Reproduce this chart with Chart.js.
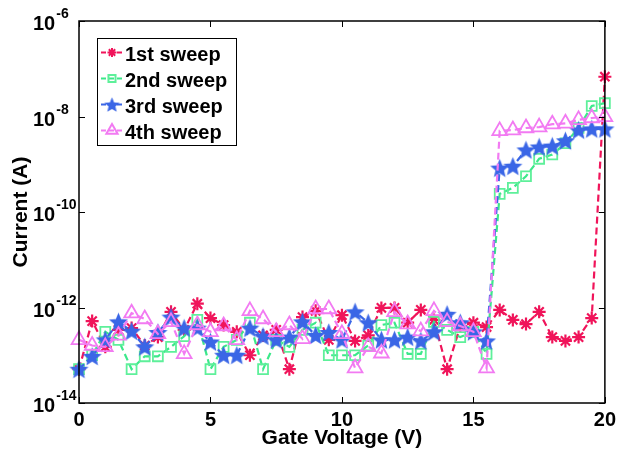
<!DOCTYPE html>
<html>
<head>
<meta charset="utf-8">
<script src="https://cdn.jsdelivr.net/npm/chart.js@4.4.0/dist/chart.umd.min.js"></script>
<style>
    html, body { margin: 0; padding: 0; background: #fff; }
</style>
</head>
<body>
<canvas id="chart" width="621" height="456"></canvas>
<script>
// gate voltage steps (V)
const gateVoltage = [0, 0.5, 1, 1.5, 2, 2.5, 3, 3.5, 4, 4.5, 5, 5.5, 6, 6.5, 7, 7.5, 8, 8.5, 9, 9.5,
    10, 10.5, 11, 11.5, 12, 12.5, 13, 13.5, 14, 14.5, 15, 15.5, 16, 16.5, 17, 17.5, 18, 18.5, 19, 19.5, 20];

// current (A) per sweep
const sweep1 = [5.1e-14, 5.2e-13, 1.5e-13, 3.4e-13, 3.7e-13, 1.6e-13, 2.4e-13, 8.1e-13, 3.4e-13, 1.2e-12,
    6.0e-13, 4.3e-13, 3.1e-13, 1.0e-13, 2.6e-13, 3.4e-13, 5.1e-14, 6.3e-13, 8.5e-13, 2.1e-13,
    6.9e-13, 2.0e-13, 2.6e-13, 9.8e-13, 9.8e-13, 4.8e-13, 8.9e-13, 5.5e-13, 5.1e-14, 4.1e-13,
    4.8e-13, 3.9e-13, 8.9e-13, 5.5e-13, 4.5e-13, 8.1e-13, 2.4e-13, 2.0e-13, 2.4e-13, 6.0e-13, 6.8e-8];
const sweep2 = [5.1e-14, 1.0e-13, 3.1e-13, 2.1e-13, 5.1e-14, 9.5e-14, 9.5e-14, 1.5e-13, 2.5e-13, 5.5e-13,
    5.1e-14, 1.5e-13, 2.1e-13, 4.8e-13, 5.1e-14, 2.1e-13, 1.5e-13, 3.4e-13, 4.8e-13, 1.0e-13,
    1.0e-13, 1.0e-13, 1.6e-13, 4.3e-13, 4.8e-13, 1.07e-13, 1.07e-13, 5.0e-13, 3.4e-13, 2.4e-13,
    3.1e-13, 1.07e-13, 2.4e-10, 3.2e-10, 5.6e-10, 1.3e-9, 1.6e-9, 2.75e-9, 5.75e-9, 1.66e-8, 1.9e-8];
const sweep3 = [5.1e-14, 9.5e-14, 2.1e-13, 5.0e-13, 3.2e-13, 1.5e-13, 3.0e-13, 6.3e-13, 3.7e-13, 3.7e-13,
    1.9e-13, 1.0e-13, 1.0e-13, 3.7e-13, 2.5e-13, 2.1e-13, 2.4e-13, 5.0e-13, 2.6e-13, 3.0e-13,
    2.1e-13, 8.1e-13, 4.8e-13, 2.1e-13, 2.1e-13, 2.4e-13, 2.0e-13, 3.1e-13, 7.2e-13, 4.8e-13,
    3.1e-13, 2.0e-13, 8.3e-10, 9.1e-10, 2.0e-9, 2.3e-9, 2.4e-9, 3.1e-9, 5.2e-9, 5.5e-9, 5.5e-9];
const sweep4 = [2.1e-13, 1.6e-13, 1.5e-13, 2.6e-13, 7.6e-13, 5.75e-13, 2.8e-13, 5.0e-13, 1.07e-13, 4.3e-13,
    3.1e-13, 4.1e-13, 2.1e-13, 8.5e-13, 5.75e-13, 3.1e-13, 4.3e-13, 2.2e-13, 9.3e-13, 9.3e-13,
    2.8e-13, 5.4e-14, 1.5e-13, 1.1e-13, 8.1e-13, 4.5e-13, 3.2e-13, 8.5e-13, 5.0e-13, 4.1e-13,
    3.1e-13, 5.4e-14, 5.0e-9, 5.2e-9, 5.75e-9, 6.0e-9, 6.9e-9, 7.2e-9, 8.5e-9, 9.3e-9, 9.8e-9];

const sweepNames = ['1st sweep', '2nd sweep', '3rd sweep', '4th sweep'];

// axis ticks
const xTicks = [0, 5, 10, 15, 20];
const yTickValues = [1e-14, 1e-12, 1e-10, 1e-8, 1e-6];
const yTickPowers = ['-14', '-12', '-10', '-8', '-6'];

const FONT = '"Liberation Sans", Arial, Helvetica, sans-serif';

// filled five point star for the 3rd sweep
function makeStar(color, size) {
    let c = document.createElement('canvas');
    c.width = size;
    c.height = size;
    let g = c.getContext('2d');
    let m = size / 2;
    g.beginPath();
    for (let k = 0; k < 10; k++) {
        let r = k % 2 === 0 ? m - 0.5 : (m - 0.5) * 0.45;
        let a = -Math.PI / 2 + k * Math.PI / 5;
        g.lineTo(m + r * Math.cos(a), m + 0.8 + r * Math.sin(a));
    }
    g.closePath();
    g.fillStyle = color;
    g.fill();
    return c;
}

function points(values) {
    return gateVoltage.map((v, i) => ({ x: v, y: values[i] }));
}

const blueStar = makeStar('#3a66e6', 21);
const blueStarSmall = makeStar('#3a66e6', 17);

const datasets = [
    {
        label: sweepNames[0], data: points(sweep1), order: 4,
        borderColor: '#f0145a', backgroundColor: '#f0145a',
        borderWidth: 2.2, borderDash: [7, 4],
        pointStyle: 'star', pointRadius: 6.5, pointBorderWidth: 2.2,
        pointBorderColor: '#f0145a'
    },
    {
        label: sweepNames[1], data: points(sweep2), order: 3,
        borderColor: '#3ce88a', backgroundColor: 'rgba(0,0,0,0)',
        borderWidth: 2.2, borderDash: [7, 4],
        pointStyle: 'rect', pointRadius: 7, pointBorderWidth: 1.8,
        pointBorderColor: '#5ef09a', pointBackgroundColor: 'rgba(0,0,0,0)'
    },
    {
        label: sweepNames[2], data: points(sweep3), order: 2,
        borderColor: '#3a66e6', backgroundColor: '#3a66e6',
        borderWidth: 2.2, borderDash: [7, 4],
        pointStyle: blueStar, pointRadius: 10,
        pointBorderColor: '#3a66e6'
    },
    {
        label: sweepNames[3], data: points(sweep4), order: 1,
        borderColor: '#f27af2', backgroundColor: 'rgba(0,0,0,0)',
        borderWidth: 2.2, borderDash: [7, 4],
        pointStyle: 'triangle', pointRadius: 8.5, pointBorderWidth: 1.8,
        pointBorderColor: '#f27af2', pointBackgroundColor: 'rgba(0,0,0,0)'
    }
];

// box round the plot, inward ticks, y labels as 10 with a raised power
const framePlugin = {
    id: 'frame',
    afterDatasetsDraw(chart) {
        const { ctx, chartArea: a, scales } = chart;
        ctx.save();
        ctx.strokeStyle = '#000';
        ctx.lineWidth = 1;
        ctx.setLineDash([]);
        ctx.beginPath();
        xTicks.forEach(v => {
            let px = Math.round(scales.x.getPixelForValue(v)) + 0.5;
            ctx.moveTo(px, a.bottom); ctx.lineTo(px, a.bottom - 6);
            ctx.moveTo(px, a.top); ctx.lineTo(px, a.top + 6);
        });
        yTickValues.forEach(v => {
            let py = Math.round(scales.y.getPixelForValue(v)) + 0.5;
            ctx.moveTo(a.left, py); ctx.lineTo(a.left + 6, py);
            ctx.moveTo(a.right, py); ctx.lineTo(a.right - 6, py);
        });
        ctx.stroke();
        ctx.lineWidth = 1.5;
        ctx.strokeRect(a.left, a.top, a.right - a.left, a.bottom - a.top);

        ctx.fillStyle = '#000';
        ctx.textBaseline = 'alphabetic';
        ctx.textAlign = 'left';
        yTickValues.forEach((v, i) => {
            let py = scales.y.getPixelForValue(v);
            ctx.font = 'bold 20px ' + FONT;
            ctx.fillText('10', 33, py + 9);
            let w = ctx.measureText('10').width;
            ctx.font = 'bold 14px ' + FONT;
            ctx.fillText(yTickPowers[i], 33 + w + 1, py - 3);
        });
        ctx.restore();
    },
    afterDraw(chart) {
        // legend box in the upper left of the plot
        const { ctx } = chart;
        const box = { x: 97, y: 38, w: 139, h: 107 };
        ctx.save();
        ctx.fillStyle = '#fff';
        ctx.fillRect(box.x, box.y, box.w, box.h);
        ctx.strokeStyle = '#000';
        ctx.lineWidth = 1;
        ctx.strokeRect(box.x + 0.5, box.y + 0.5, box.w, box.h);
        chart.data.datasets.forEach((ds, i) => {
            let y = 52.5 + i * 26;
            ctx.strokeStyle = ds.borderColor;
            ctx.lineWidth = 2;
            ctx.setLineDash([5, 3]);
            ctx.beginPath();
            ctx.moveTo(101, y); ctx.lineTo(123, y);
            ctx.stroke();
            ctx.setLineDash([]);
            ctx.strokeStyle = ds.pointBorderColor;
            ctx.fillStyle = ds.pointBackgroundColor || ds.backgroundColor;
            let isStar = ds.pointStyle === blueStar;
            Chart.helpers.drawPoint(ctx, {
                pointStyle: isStar ? blueStarSmall : ds.pointStyle,
                radius: isStar ? 8 : ds.pointRadius - 2,
                borderWidth: ds.pointBorderWidth || 1,
                rotation: 0
            }, 112, y);
            ctx.fillStyle = '#000';
            ctx.font = 'bold 20px ' + FONT;
            ctx.textBaseline = 'alphabetic';
            ctx.fillText(ds.label, 125, y + 8.5);
        });
        ctx.restore();
    }
};

new Chart(document.getElementById('chart'), {
    type: 'line',
    data: { datasets: datasets },
    options: {
        responsive: false,
        animation: false,
        layout: { padding: { top: 21, right: 13, left: 0, bottom: 0 } },
        plugins: { legend: { display: false }, tooltip: { enabled: false } },
        elements: { line: { tension: 0, fill: false } },
        datasets: { line: { clip: false } },
        scales: {
            x: {
                type: 'linear', min: 0, max: 20,
                afterBuildTicks: (s) => { s.ticks = xTicks.map(v => ({ value: v })); },
                afterFit: (s) => { s.height = 53; },
                grid: { display: false, drawTicks: false },
                border: { display: false },
                ticks: { color: '#000', padding: 5, font: { family: FONT, size: 20, weight: 'bold' } },
                title: {
                    display: true, text: 'Gate Voltage (V)', color: '#000',
                    padding: { top: 0, bottom: 5 },
                    font: { family: FONT, size: 21, weight: 'bold' }
                }
            },
            y: {
                type: 'logarithmic', min: 1e-14, max: 1e-6,
                afterBuildTicks: (s) => { s.ticks = yTickValues.map(v => ({ value: v })); },
                afterFit: (s) => { s.width = 79; },
                grid: { display: false, drawTicks: false },
                border: { display: false },
                ticks: { display: false },
                title: {
                    display: true, text: 'Current (A)', color: '#000',
                    padding: { top: 9, bottom: 0 },
                    font: { family: FONT, size: 21, weight: 'bold' }
                }
            }
        }
    },
    plugins: [framePlugin]
});
</script>
</body>
</html>
